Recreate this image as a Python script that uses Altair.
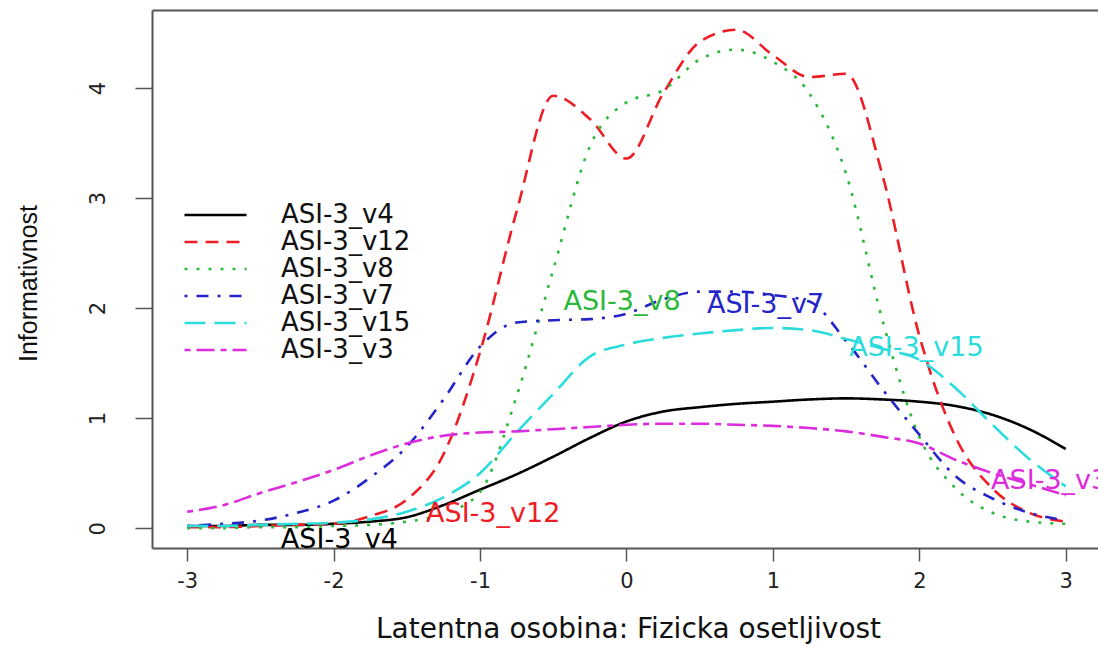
import altair as alt
import pandas as pd

# Latent trait grid (theta) shared by all item information curves
theta = [-3.0, -2.75, -2.5, -2.25, -2.0, -1.75, -1.5, -1.25, -1.0, -0.75, -0.5, -0.25,
         0.0, 0.25, 0.5, 0.75, 1.0, 1.25, 1.5, 1.75, 2.0, 2.25, 2.5, 2.75, 3.0]

# Item information values per item
info_v4 = [0.02, 0.02, 0.03, 0.03, 0.04, 0.06, 0.10, 0.21, 0.35, 0.49, 0.65, 0.82,
           0.97, 1.06, 1.10, 1.13, 1.15, 1.17, 1.18, 1.17, 1.15, 1.11, 1.03, 0.90, 0.72]
info_v12 = [0.01, 0.01, 0.02, 0.03, 0.04, 0.11, 0.26, 0.67, 1.60, 2.88, 3.93, 3.72,
            3.36, 3.95, 4.42, 4.53, 4.30, 4.10, 4.13, 3.20, 1.75, 0.82, 0.36, 0.14, 0.06]
info_v8 = [0.00, 0.00, 0.01, 0.01, 0.02, 0.03, 0.06, 0.13, 0.33, 1.20, 2.35, 3.47,
           3.87, 3.98, 4.26, 4.35, 4.24, 3.95, 3.22, 1.88, 0.83, 0.36, 0.14, 0.06, 0.04]
info_v7 = [0.02, 0.04, 0.07, 0.14, 0.25, 0.46, 0.74, 1.17, 1.65, 1.87, 1.89, 1.90,
           1.95, 2.08, 2.15, 2.15, 2.12, 2.06, 1.70, 1.26, 0.85, 0.47, 0.27, 0.14, 0.07]
info_v15 = [0.02, 0.02, 0.03, 0.04, 0.05, 0.08, 0.15, 0.28, 0.50, 0.87, 1.22, 1.56,
            1.67, 1.73, 1.77, 1.80, 1.82, 1.80, 1.72, 1.63, 1.53, 1.27, 0.94, 0.63, 0.38]
info_v3 = [0.15, 0.21, 0.32, 0.42, 0.53, 0.66, 0.77, 0.84, 0.87, 0.88, 0.90, 0.92,
           0.94, 0.95, 0.95, 0.94, 0.93, 0.91, 0.88, 0.83, 0.77, 0.62, 0.50, 0.40, 0.30]

items = ["ASI-3_v4", "ASI-3_v12", "ASI-3_v8", "ASI-3_v7", "ASI-3_v15", "ASI-3_v3"]
series = [info_v4, info_v12, info_v8, info_v7, info_v15, info_v3]
colors = ["#000000", "#EE1C25", "#2CB83A", "#2424C8", "#2CDCDC", "#DC2CDC"]
dashes = [[1, 0], [13, 8], [3, 9], [3, 9, 12, 9], [21, 9], [6, 6, 18, 6]]

# Item name annotations placed inside the plot
label_x = [-1.96, -0.91, -0.03, 0.95, 1.98, 2.89]
label_y = [-0.11, 0.13, 2.06, 2.03, 1.64, 0.43]

x_ticks = [-3, -2, -1, 0, 1, 2, 3]
y_ticks = [0, 1, 2, 3, 4]

curves = pd.DataFrame(
    [{"theta": t, "info": v, "item": name}
     for name, vals in zip(items, series) for t, v in zip(theta, vals)]
)
labels = pd.DataFrame({"lx": label_x, "ly": label_y, "text": items, "col": colors})

FONT = "DejaVu Sans"
LINE_GREY = "#555555"
x_scale = alt.Scale(domain=[-3.24, 3.22], nice=False, zero=False)
y_scale = alt.Scale(domain=[-0.18, 4.71], nice=False, zero=False)

y_axis = alt.Axis(
    orient="left", values=y_ticks, labelExpr="'' + datum.value",
    tickSize=17, tickWidth=1.5, tickColor=LINE_GREY,
    domainColor=LINE_GREY, domainWidth=2,
    labelFont=FONT, labelFontSize=21, labelColor="#222222",
    labelAngle=270, labelAlign="center", labelBaseline="bottom", labelPadding=27,
    title="Informativnost", titleFont="Liberation Sans", titleFontSize=25,
    titleFontWeight="normal", titleColor="#111111",
    titleAngle=270, titleX=-124, titleY=273, titleAlign="center", titleBaseline="middle",
)

legend = alt.Legend(
    title=None, orient="none", legendX=31, legendY=191.5,
    symbolType="stroke", symbolSize=3844, symbolStrokeWidth=2.6,
    clipHeight=27, rowPadding=0, padding=0,
    labelFont=FONT, labelFontSize=26, labelColor="#111111",
    labelOffset=33, labelLimit=400,
)

lines = alt.Chart(curves).mark_line(
    interpolate="monotone", strokeWidth=2.6, clip=True
).encode(
    x=alt.X("theta:Q", scale=x_scale,
            axis=alt.Axis(orient="bottom", values=x_ticks, labelExpr="'' + datum.value",
                          tickSize=13, tickWidth=1.5, tickColor=LINE_GREY,
                          domainColor=LINE_GREY, domainWidth=2,
                          labelFont=FONT, labelFontSize=21, labelColor="#222222",
                          labelPadding=9,
                          title="Latentna osobina: Fizicka osetljivost",
                          titleFont=FONT, titleFontSize=28, titleFontWeight="normal",
                          titleColor="#111111", titleX=476, titleY=81,
                          titleAlign="center", titleBaseline="middle")),
    y=alt.Y("info:Q", scale=y_scale, axis=y_axis),
    color=alt.Color("item:N", scale=alt.Scale(domain=items, range=colors), legend=legend),
    strokeDash=alt.StrokeDash("item:N", scale=alt.Scale(domain=items, range=dashes),
                              legend=legend),
)

# Text layer also carries the top frame line (axis without ticks or labels)
texts = alt.Chart(labels).mark_text(
    font=FONT, fontSize=27, align="center", baseline="middle", clip=True
).encode(
    x=alt.X("lx:Q", scale=x_scale,
            axis=alt.Axis(orient="top", labels=False, ticks=False, title=None,
                          domainColor=LINE_GREY, domainWidth=2, grid=False)),
    y=alt.Y("ly:Q", scale=y_scale, axis=y_axis),
    text="text:N",
    color=alt.Color("col:N", scale=None),
)

chart = alt.layer(lines, texts).properties(
    width=946, height=538,
    padding={"left": 152, "top": 10, "right": 0, "bottom": 98},
    autosize=alt.AutoSizeParams(type="none"),
    background="white",
).configure_view(stroke=None).configure_axis(grid=False)

chart.save("out.html", embed_options={"renderer": "svg", "actions": False})
